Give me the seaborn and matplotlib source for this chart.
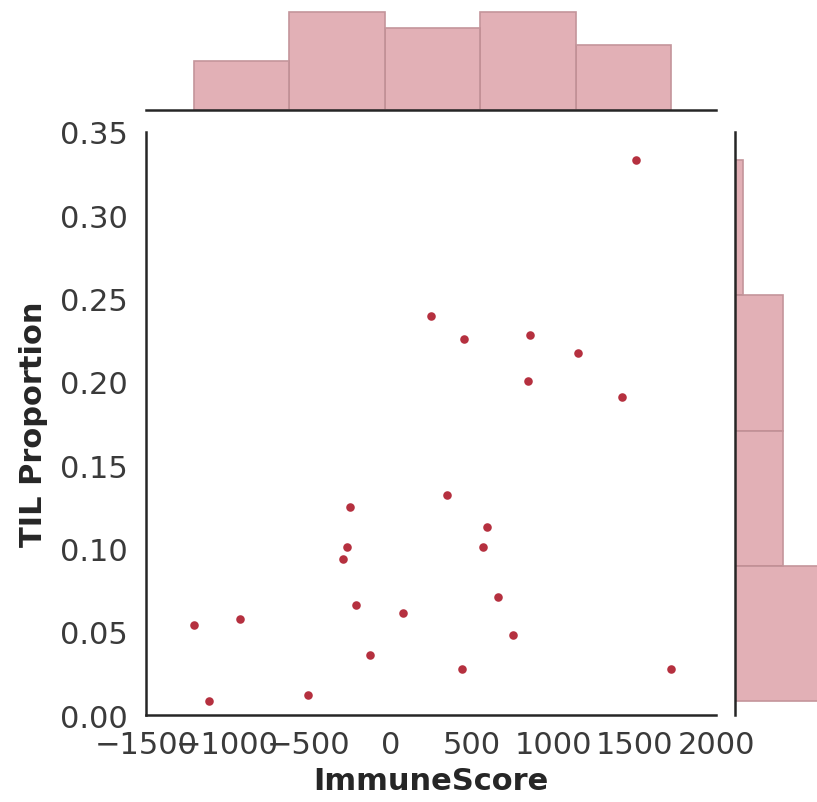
import numpy as np
import pandas as pd
import matplotlib
matplotlib.use("Agg")
import matplotlib.pyplot as plt
import seaborn as sns

# ImmuneScore vs. tumour-infiltrating lymphocyte proportion, one value per sample
immune_score = [1509, 250, 453, 858, 1155, 846, 1423, 348, -247, 594,
                -266, 570, -290, 661, -211, 78, -923, -1205, 753, -125,
                440, 1725, -1113, -505]
til_proportion = [0.333, 0.2395, 0.2257, 0.228, 0.2173, 0.2005, 0.191, 0.132,
                  0.1249, 0.1128, 0.1008, 0.1008, 0.0936, 0.0708, 0.066, 0.0612,
                  0.0576, 0.054, 0.048, 0.036, 0.0276, 0.0276, 0.0084, 0.012]

x_ticks = [-1500, -1000, -500, 0, 500, 1000, 1500, 2000]
y_ticks = [0.00, 0.05, 0.10, 0.15, 0.20, 0.25, 0.30, 0.35]

df = pd.DataFrame({"ImmuneScore": immune_score, "TIL Proportion": til_proportion})

sns.set_theme(style="white")
plt.rcParams["font.family"] = ["DejaVu Sans"]

point_color = "#b5303f"
bar_edge = "#c4959b"

g = sns.JointGrid(data=df, x="ImmuneScore", y="TIL Proportion")
fig = g.figure
fig.set_size_inches(8.17, 8.03)
fig.set_dpi(100)

sns.scatterplot(data=df, x="ImmuneScore", y="TIL Proportion", ax=g.ax_joint,
                color=point_color, s=38, linewidth=0)
sns.histplot(data=df, x="ImmuneScore", ax=g.ax_marg_x, bins=5,
             color=point_color, alpha=0.38, edgecolor=bar_edge, linewidth=1.2)
sns.histplot(data=df, y="TIL Proportion", ax=g.ax_marg_y, bins=4,
             color=point_color, alpha=0.38, edgecolor=bar_edge, linewidth=1.2)

# Place the three panels
g.ax_joint.set_position([0.1787, 0.1083, 0.6977, 0.7261])
g.ax_marg_x.set_position([0.1787, 0.8618, 0.6977, 0.1283])
g.ax_marg_y.set_position([0.8996, 0.1083, 0.1131, 0.7261])

ax = g.ax_joint
ax.set_xlim(-1500, 2000)
ax.set_ylim(0, 0.35)
ax.set_xticks(x_ticks)
ax.set_yticks(y_ticks)
ax.set_yticklabels([f"{v:.2f}" for v in y_ticks])
ax.tick_params(axis="y", labelsize=22, length=0, pad=13, labelcolor="#3a3a3a")
ax.tick_params(axis="x", labelsize=22, length=0, pad=11, labelcolor="#3a3a3a")
ax.set_xlabel("ImmuneScore", fontsize=22, fontweight="bold", color="#262626", labelpad=5)
ax.set_ylabel("TIL Proportion", fontsize=22, fontweight="bold", color="#262626", labelpad=9)

for a in (g.ax_joint, g.ax_marg_x, g.ax_marg_y):
    for sp in a.spines.values():
        sp.set_linewidth(1.8)
        sp.set_color("#262626")

sns.despine(ax=g.ax_joint)
sns.despine(ax=g.ax_marg_x, left=True)
sns.despine(ax=g.ax_marg_y, bottom=True)
g.ax_marg_x.tick_params(left=False, bottom=False, labelleft=False, labelbottom=False)
g.ax_marg_y.tick_params(left=False, bottom=False, labelleft=False, labelbottom=False)
g.ax_marg_x.set_ylabel("")
g.ax_marg_y.set_xlabel("")

fig.savefig("out.png", dpi=100)
